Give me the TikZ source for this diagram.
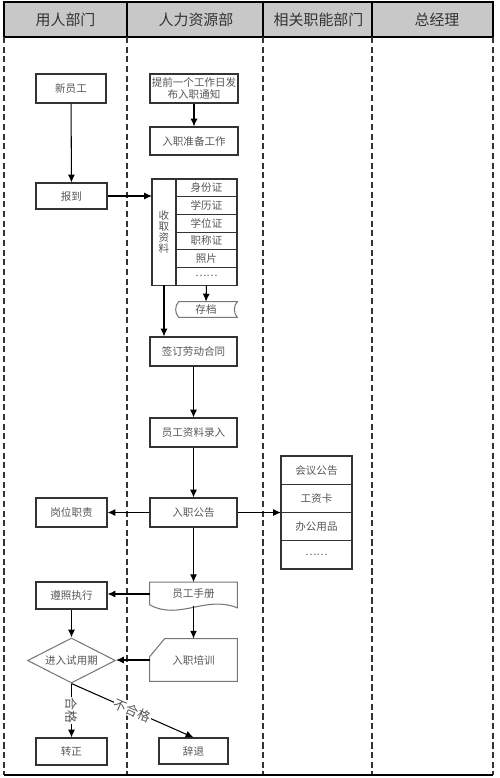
\documentclass[tikz,border=0pt]{standalone}
\usepackage{fontspec}
\usepackage{tikz}
\usetikzlibrary{positioning,shapes.geometric,arrows.meta,calc}
\newfontfamily\cjk{Noto Sans CJK SC}
\definecolor{headgray}{HTML}{C8C8C8}
\definecolor{txtgray}{HTML}{555555}
\definecolor{linegray}{HTML}{333333}
\definecolor{softline}{HTML}{777777}

\tikzset{
  box/.style={draw=linegray, line width=0.6pt, inner sep=1pt, text=txtgray,
    font=\cjk\fontsize{6}{7}\selectfont, align=center},
  cell/.style={box, outer sep=0pt, minimum width=1.22cm, minimum height=0.354cm},
  bigcell/.style={box, outer sep=0pt, minimum width=1.42cm, minimum height=0.565cm},
  head/.style={text=linegray, font=\cjk\fontsize{8.5}{10}\selectfont},
  lbl/.style={text=txtgray, fill=white, inner sep=0.5pt, font=\cjk\fontsize{7.3}{8}\selectfont},
  arr/.style={-{Latex[length=4.5pt,width=4pt]}, line width=0.6pt},
  lane/.style={linegray, line width=0.7pt, dash pattern=on 3.5pt off 2pt}
}

\begin{document}
\begin{tikzpicture}[x=0.02cm, y=-0.02cm]
  \useasboundingbox (0,0) rectangle (500,778);

  % Draw header and lanes
  \fill[headgray] (4,2) rectangle (493,37);
  \draw[line width=0.9pt] (4,2) rectangle (493,37);
  \foreach \x in {127,263,372}
    \draw[line width=0.9pt] (\x,2) -- (\x,37);
  \foreach \x in {4,127,263,372,493}
    \draw[lane] (\x,37) -- (\x,775);
  \draw[line width=0.9pt] (4,775) -- (493,775);

  \node[head] (yongren) at (65.5,19.5) {用人部门};
  \node[head] (renli) at (196,19.5) {人力资源部};
  \node[head] (xiangguan) at (318.5,19.5) {相关职能部门};
  \node[head] (zongjingli) at (437,19.5) {总经理};

  % Boxes at the top
  \node[box, minimum width=1.4cm, minimum height=0.58cm] (xinyuan) at (71,88.5) {新员工};
  \node[box, minimum width=1.76cm, minimum height=0.58cm] (tongzhi) at (194,88.5) {提前一个工作日发\\布入职通知};
  \node[box, minimum width=1.76cm, minimum height=0.56cm] (zhunbei) at (194,141) {入职准备工作};
  \node[box, minimum width=1.42cm, minimum height=0.52cm] (baodao) at (71.5,196) {报到};

  % Collected papers
  \node[box, outer sep=0pt, inner sep=0pt, minimum width=0.48cm, minimum height=2.124cm,
    anchor=north west, font=\cjk\fontsize{6}{6.2}\selectfont] (shouqu) at (152,179) {收\\取\\资\\料};
  \node[cell, anchor=north west] (sfz) at (176,179) {身份证};
  \node[cell, below=0pt of sfz] (xlz) {学历证};
  \node[cell, below=0pt of xlz] (xwz) {学位证};
  \node[cell, below=0pt of xwz] (zcz) {职称证};
  \node[cell, below=0pt of zcz] (zp) {照片};
  \node[cell, below=0pt of zp] (dotsa) {……};

  % Stored file
  \node[text=txtgray, font=\cjk\fontsize{6}{7}\selectfont, minimum width=1.24cm,
    minimum height=0.3cm, inner sep=0pt] (cundang) at (206,309.5) {存档};
  \draw[softline, line width=0.6pt] ($(cundang.north west)+(4,0)$) -- (cundang.north east)
    .. controls +(-4,4) and +(-4,-4) .. (cundang.south east)
    -- ($(cundang.south west)+(4,0)$)
    .. controls +(-4,-4) and +(-4,4) .. ($(cundang.north west)+(4,0)$);

  % Middle column
  \node[box, minimum width=1.74cm, minimum height=0.58cm] (qianding) at (193.5,351.5) {签订劳动合同};
  \node[box, minimum width=1.74cm, minimum height=0.58cm] (luru) at (193.5,432.5) {员工资料录入};
  \node[box, minimum width=1.74cm, minimum height=0.58cm] (gonggao) at (193.5,512.5) {入职公告};
  \node[box, minimum width=1.42cm, minimum height=0.58cm] (gangwei) at (71.5,512.5) {岗位职责};

  % Items from the other departments
  \node[bigcell, anchor=north west] (huiyi) at (281,456) {会议公告};
  \node[bigcell, below=0pt of huiyi] (gongzika) {工资卡};
  \node[bigcell, below=0pt of gongzika] (bangong) {办公用品};
  \node[bigcell, below=0pt of bangong] (dotsb) {……};

  % Handbook (document shape)
  \node[text=txtgray, font=\cjk\fontsize{6}{7}\selectfont, minimum width=1.74cm,
    minimum height=0.46cm, inner sep=0pt] (shouce) at (193.5,594) {员工手册};
  \draw[softline, line width=0.6pt] ($(shouce.south west)+(0,-1)$) -- (shouce.north west)
    -- (shouce.north east) -- ($(shouce.south east)+(0,2)$)
    .. controls +(-32,-13) and +(30,16) .. ($(shouce.south west)+(0,-1)$);
  \node[box, minimum width=1.42cm, minimum height=0.54cm] (zunzhao) at (71.5,595.5) {遵照执行};

  % Training (card shape)
  \node[text=txtgray, font=\cjk\fontsize{6}{7}\selectfont, minimum width=1.74cm,
    minimum height=0.84cm, inner sep=0pt] (peixun) at (193.5,660) {入职培训};
  \draw[softline, line width=0.6pt] (peixun.south west) -- ($(peixun.north west)+(0,18)$)
    -- ($(peixun.north west)+(15,0)$) -- (peixun.north east) -- (peixun.south east) -- cycle;

  % Probation and results
  \node[box, draw=softline, diamond, aspect=2, minimum width=1.76cm, minimum height=0.9cm,
    inner sep=0pt] (shiyong) at (71.5,660.5) {进入试用期};
  \node[box, minimum width=1.42cm, minimum height=0.54cm] (zhuanzheng) at (71.5,751.5) {转正};
  \node[box, minimum width=1.38cm, minimum height=0.52cm] (cituo) at (193.5,751) {辞退};

  % Draw connectors
  \draw[arr] (xinyuan) -- (baodao);
  \draw[arr] (tongzhi) -- (zhunbei);
  \draw[arr] (baodao.east) -- (baodao.east -| shouqu.west);
  \draw[arr] (dotsa.south) -- (cundang.north);
  \draw[arr] (shouqu.south) -- (shouqu.south |- qianding.north);
  \draw[arr] (qianding) -- (luru);
  \draw[arr] (luru) -- (gonggao);
  \draw[arr] (gonggao) -- (gangwei);
  \draw[arr] (gonggao.east) -- (gonggao.east -| huiyi.west);
  \draw[arr] (gonggao) -- (shouce.north);
  \draw[arr] (shouce.west) -- (shouce.west -| zunzhao.east);
  \draw[arr] (shouce.south) -- (peixun.north);
  \draw[arr] (peixun.west) -- (peixun.west -| shiyong.east);
  \draw[arr] (zunzhao) -- (shiyong.north);
  \draw[arr] (shiyong.south) -- (zhuanzheng.north) node[lbl, midway, rotate=-90] {合格};
  \draw[arr] (shiyong.south) -- (cituo.north) node[lbl, midway, sloped] {不合格};
\end{tikzpicture}
\end{document}
